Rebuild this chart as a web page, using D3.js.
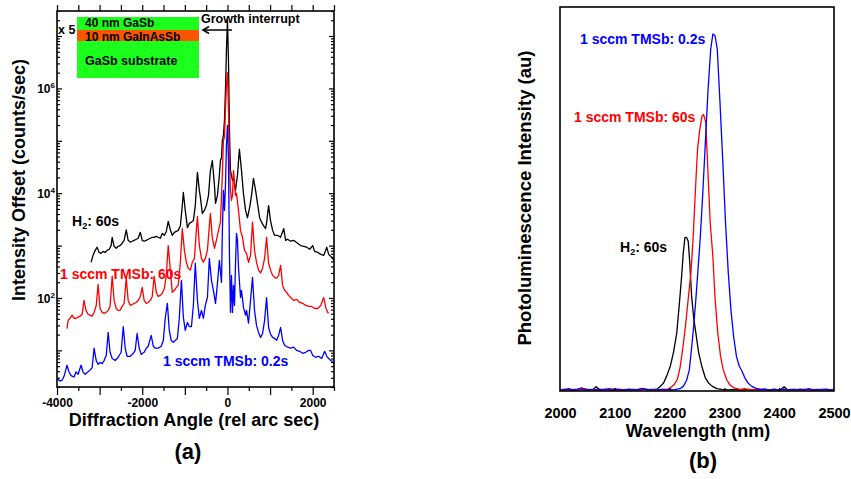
<!DOCTYPE html>
<html>
<head>
<meta charset="utf-8">
<script src="https://cdn.jsdelivr.net/npm/d3@7"></script>
<style>
  body { margin: 0; background: #fff; }
  svg text { font-family: "Liberation Sans", Arial, sans-serif; font-weight: bold; }
</style>
</head>
<body>
<div id="chart"></div>
<script>
const WIDTH = 851;
const HEIGHT = 479;

// (a) XRD CURVES: [angle (rel arc sec), intensity (counts/sec)]
const xrdH2 = [
  [-3200, 480], [-3155, 650], [-3105, 810], [-3060, 930], [-3010, 740], [-2965, 710], [-2920, 775],
  [-2870, 740], [-2825, 810], [-2775, 850], [-2730, 1000], [-2705, 1440], [-2660, 970], [-2610, 890],
  [-2565, 970], [-2520, 1000], [-2470, 1110], [-2425, 1260], [-2375, 2000], [-2330, 1260], [-2280, 1160],
  [-2235, 1210], [-2190, 1260], [-2140, 1320], [-2095, 1380], [-2045, 1790], [-2000, 1260], [-1955, 1210],
  [-1905, 1260], [-1860, 1320], [-1810, 1380], [-1765, 1440], [-1720, 1440], [-1670, 1500], [-1625, 1440],
  [-1575, 1380], [-1530, 1710], [-1480, 1570], [-1435, 1860], [-1390, 2900], [-1340, 2000], [-1295, 1570],
  [-1245, 1790], [-1200, 1860], [-1155, 1950], [-1105, 2400], [-1060, 5800], [-1035, 10300], [-990, 4700],
  [-940, 2200], [-895, 2650], [-845, 2800], [-800, 3000], [-755, 5800], [-705, 25000], [-660, 11300],
  [-635, 8300], [-590, 4100], [-540, 4700], [-495, 5800], [-445, 9100], [-400, 27000], [-355, 42000],
  [-305, 14100], [-280, 6400], [-235, 9100], [-190, 22000], [-165, 42000], [-140, 48000], [-120, 102000],
  [-95, 127000], [-70, 245000], [-47, 920000], [-24, 5300000], [0, 20000000], [24, 3400000], [47, 158000],
  [70, 27000], [94, 22000], [118, 17500], [141, 19200], [188, 11300], [235, 22000], [280, 69000],
  [330, 27000], [375, 9900], [425, 4700], [470, 3400], [520, 5300], [565, 9100], [610, 19200], [660, 11300],
  [705, 6400], [755, 3400], [800, 2800], [845, 2400], [895, 2100], [920, 2800], [965, 5800], [1010, 3000],
  [1060, 1950], [1105, 1570], [1175, 1570], [1245, 1440], [1320, 2100], [1365, 1260], [1410, 1320],
  [1480, 1210], [1555, 1260], [1645, 1110], [1720, 1000], [1790, 970], [1860, 930], [1930, 850],
  [2000, 1000], [2045, 775], [2120, 740], [2190, 680], [2260, 650], [2330, 930], [2375, 680],
  [2445, 600], [2500, 520]
];

const xrdTmsb60 = [
  [-3765, 26], [-3740, 37], [-3695, 41], [-3645, 47], [-3600, 41], [-3555, 41], [-3505, 43], [-3460, 45],
  [-3410, 49], [-3365, 90], [-3320, 58], [-3270, 49], [-3225, 47], [-3175, 45], [-3130, 53], [-3080, 72],
  [-3035, 182], [-2990, 63], [-2940, 53], [-2895, 51], [-2845, 53], [-2800, 58], [-2755, 69], [-2705, 260],
  [-2660, 90], [-2610, 63], [-2565, 58], [-2520, 58], [-2470, 69], [-2425, 79], [-2375, 238], [-2330, 90],
  [-2280, 72], [-2235, 75], [-2190, 79], [-2140, 82], [-2095, 90], [-2045, 107], [-2000, 160], [-1955, 90],
  [-1905, 79], [-1860, 82], [-1810, 90], [-1765, 107], [-1720, 260], [-1670, 128], [-1625, 107],
  [-1575, 112], [-1530, 123], [-1480, 153], [-1435, 270], [-1390, 1000], [-1340, 340], [-1295, 128],
  [-1245, 140], [-1200, 160], [-1155, 174], [-1105, 480], [-1060, 2100], [-1010, 810], [-965, 480],
  [-920, 370], [-870, 340], [-825, 480], [-775, 570], [-730, 1950], [-705, 3600], [-660, 1000], [-610, 570],
  [-565, 480], [-520, 570], [-470, 810], [-425, 2400], [-400, 4100], [-355, 1380], [-305, 890], [-260, 1260],
  [-210, 1950], [-165, 2800], [-120, 22000], [-95, 102000], [-70, 116000], [-47, 380000], [-24, 1140000],
  [0, 2000000], [24, 380000], [47, 42000], [70, 11300], [94, 7300], [118, 9100], [141, 27000], [165, 17500],
  [188, 9100], [212, 9900], [259, 4700], [306, 1950], [353, 1440], [400, 810], [447, 710], [494, 480],
  [541, 650], [588, 2800], [635, 810], [682, 480], [729, 340], [776, 300], [824, 370], [871, 570],
  [918, 1440], [965, 460], [1012, 340], [1059, 270], [1106, 248], [1153, 238], [1200, 270], [1247, 420],
  [1294, 174], [1341, 140], [1388, 128], [1435, 112], [1482, 102], [1553, 90], [1624, 94], [1694, 82],
  [1765, 79], [1835, 72], [1906, 69], [1976, 69], [2047, 63], [2118, 63], [2188, 72], [2259, 102],
  [2306, 66], [2353, 53], [2376, 51]
];

const xrdTmsb02 = [
  [-4000, 2.9], [-3930, 2.6], [-3880, 2.7], [-3835, 3.2], [-3765, 5.2], [-3720, 3.9], [-3670, 3.3],
  [-3600, 3.1], [-3555, 3.9], [-3505, 3.5], [-3435, 5.2], [-3390, 3.9], [-3340, 3.5], [-3270, 3.9],
  [-3225, 4.2], [-3175, 4.7], [-3130, 11], [-3080, 6.4], [-3035, 5.4], [-2990, 5.9], [-2940, 5.6],
  [-2895, 6.4], [-2845, 8.0], [-2800, 22], [-2755, 9.2], [-2705, 7.0], [-2635, 6.4], [-2565, 7.4],
  [-2495, 9.2], [-2445, 28.5], [-2400, 11], [-2355, 7.7], [-2280, 7.7], [-2210, 8.8], [-2165, 10],
  [-2120, 21], [-2070, 11], [-2025, 8.4], [-1955, 9.2], [-1905, 11], [-1860, 12], [-1790, 19.3],
  [-1740, 12], [-1695, 11], [-1625, 11], [-1555, 12], [-1505, 15.5], [-1460, 41], [-1410, 79], [-1365, 24],
  [-1320, 15.5], [-1270, 14.2], [-1225, 15.5], [-1175, 16.9], [-1130, 41], [-1080, 217], [-1035, 43],
  [-990, 24], [-940, 34], [-895, 28.5], [-845, 28.5], [-800, 72], [-755, 460], [-705, 90], [-660, 41],
  [-610, 58], [-565, 41], [-520, 72], [-470, 102], [-425, 570], [-375, 217], [-330, 140], [-280, 79],
  [-235, 190], [-190, 520], [-140, 199], [-120, 1790], [-95, 11300], [-70, 4700], [-47, 14100],
  [-24, 82000], [0, 197000], [24, 42000], [47, 650], [71, 53], [94, 270], [118, 53], [141, 174], [165, 72],
  [188, 420], [212, 1710], [235, 1260], [259, 385], [306, 102], [329, 140], [376, 66], [424, 47], [447, 58],
  [494, 33], [541, 90], [588, 248], [635, 58], [682, 30], [729, 22], [776, 17.7], [824, 21], [871, 37],
  [918, 102], [965, 27.3], [1012, 20.2], [1059, 17.7], [1106, 16.9], [1153, 15.5], [1200, 19.3],
  [1247, 27.3], [1294, 15.5], [1341, 12.5], [1412, 11.5], [1482, 11], [1553, 11.5], [1624, 10], [1694, 9.6],
  [1765, 8.8], [1835, 9.2], [1906, 10], [1953, 10], [2000, 8.0], [2070, 7.4], [2140, 7.7], [2210, 7.0],
  [2280, 9.6], [2330, 7.7], [2375, 7.0], [2425, 6.4], [2470, 6.2], [2500, 5.6]
];

// (b) PL SPECTRA: [wavelength (nm), intensity (au)]
const plH2 = [
  [2000, 0.003], [2012, 0.004], [2024, 0.002], [2036, 0.004], [2048, 0.003], [2060, 0.004], [2066, 0.011],
  [2072, 0.003], [2084, 0.004], [2096, 0.002], [2108, 0.004], [2120, 0.003], [2132, 0.004], [2144, 0.003],
  [2156, 0.005], [2165, 0.003], [2177, 0.005], [2183, 0.012], [2189, 0.021], [2195, 0.04], [2201, 0.063],
  [2207, 0.10], [2213, 0.15], [2218, 0.23], [2222, 0.30], [2225, 0.36], [2228, 0.40], [2231, 0.40],
  [2234, 0.39], [2237, 0.33], [2240, 0.25], [2244, 0.19], [2248, 0.15], [2253, 0.10], [2259, 0.063],
  [2265, 0.035], [2271, 0.021], [2278, 0.012], [2286, 0.006], [2295, 0.004], [2307, 0.003], [2319, 0.004],
  [2331, 0.002], [2343, 0.004], [2355, 0.003], [2367, 0.004], [2379, 0.003], [2391, 0.004], [2403, 0.003],
  [2409, 0.011], [2415, 0.003], [2427, 0.004], [2439, 0.003], [2451, 0.004], [2463, 0.002], [2475, 0.004],
  [2487, 0.003], [2500, 0.003]
];

const plTmsb60 = [
  [2000, 0.003], [2009, 0.005], [2018, 0.002], [2027, 0.004], [2036, 0.003], [2045, 0.006], [2054, 0.003],
  [2063, 0.004], [2072, 0.002], [2081, 0.005], [2090, 0.003], [2100, 0.006], [2109, 0.003], [2118, 0.004],
  [2127, 0.002], [2136, 0.004], [2145, 0.003], [2154, 0.005], [2163, 0.003], [2172, 0.004], [2181, 0.003],
  [2189, 0.005], [2195, 0.004], [2201, 0.008], [2208, 0.016], [2214, 0.03], [2219, 0.06], [2224, 0.11],
  [2229, 0.17], [2234, 0.24], [2239, 0.31], [2243, 0.40], [2247, 0.52], [2251, 0.63], [2255, 0.68],
  [2259, 0.715], [2262, 0.72], [2266, 0.70], [2270, 0.57], [2274, 0.44], [2279, 0.35], [2283, 0.24],
  [2288, 0.15], [2293, 0.09], [2298, 0.055], [2304, 0.03], [2310, 0.016], [2318, 0.008], [2328, 0.004],
  [2337, 0.006], [2346, 0.003], [2355, 0.004], [2364, 0.002], [2373, 0.005], [2382, 0.003], [2391, 0.004],
  [2400, 0.003], [2409, 0.005], [2418, 0.002], [2427, 0.004], [2436, 0.003], [2445, 0.005], [2454, 0.003],
  [2463, 0.004], [2472, 0.002], [2481, 0.005], [2490, 0.003], [2500, 0.004]
];

const plTmsb02 = [
  [2000, 0.004], [2008, 0.002], [2016, 0.006], [2024, 0.003], [2032, 0.005], [2040, 0.008], [2046, 0.003],
  [2055, 0.004], [2064, 0.002], [2072, 0.005], [2080, 0.003], [2090, 0.006], [2098, 0.003], [2107, 0.004],
  [2116, 0.002], [2125, 0.005], [2133, 0.003], [2142, 0.004], [2150, 0.007], [2158, 0.003], [2166, 0.004],
  [2175, 0.002], [2184, 0.004], [2192, 0.003], [2200, 0.004], [2208, 0.003], [2214, 0.005], [2219, 0.006],
  [2225, 0.012], [2231, 0.028], [2236, 0.055], [2240, 0.11], [2244, 0.17], [2248, 0.24], [2252, 0.32],
  [2256, 0.40], [2260, 0.50], [2265, 0.64], [2270, 0.78], [2275, 0.89], [2279, 0.93], [2283, 0.925],
  [2287, 0.89], [2292, 0.75], [2297, 0.60], [2302, 0.44], [2307, 0.31], [2312, 0.21], [2317, 0.14],
  [2322, 0.09], [2327, 0.065], [2332, 0.052], [2337, 0.035], [2343, 0.021], [2350, 0.012], [2358, 0.007],
  [2366, 0.004], [2374, 0.005], [2382, 0.002], [2390, 0.004], [2398, 0.003], [2406, 0.005], [2414, 0.002],
  [2422, 0.004], [2430, 0.003], [2438, 0.005], [2446, 0.002], [2454, 0.006], [2462, 0.003], [2470, 0.004],
  [2478, 0.002], [2486, 0.005], [2494, 0.003], [2500, 0.004]
];

// TICKS
const xrdTickLabels = [-4000, -2000, 0, 2000];
const xrdDecadeLabels = [2, 4, 6];
const plTickLabels = [2000, 2100, 2200, 2300, 2400, 2500];

const RED = '#ff0000';
const BLUE = '#0000ff';

const svg = d3.select('#chart').append('svg')
  .attr('width', WIDTH).attr('height', HEIGHT);

// ================= PANEL (a) =================
const A = { left: 57, right: 334, top: 11, bottom: 387 };
const xA = d3.scaleLinear().domain([-4000, 2500]).range([A.left, A.right]);
const yA = d3.scaleLog().domain([2, 3e7]).range([A.bottom, A.top]);

const gA = svg.append('g').attr('id', 'xrd');

gA.append('clipPath').attr('id', 'clip-a').append('rect')
  .attr('x', A.left).attr('y', A.top)
  .attr('width', A.right - A.left).attr('height', A.bottom - A.top);

const lineA = d3.line().x(d => xA(d[0])).y(d => yA(d[1]));

[[xrdH2, '#000'], [xrdTmsb60, RED], [xrdTmsb02, BLUE]].forEach(([data, color]) => {
  gA.append('path').datum(data)
    .attr('d', lineA)
    .attr('fill', 'none').attr('stroke', color).attr('stroke-width', 1.3)
    .attr('stroke-linejoin', 'round')
    .attr('clip-path', 'url(#clip-a)');
});

// log ticks 2..9 x 10^n
const logTicks = [];
for (let e = 0; e <= 7; e++) {
  for (let m = 1; m <= 9; m++) {
    const v = m * Math.pow(10, e);
    if (v >= 2 && v <= 3e7) logTicks.push(v);
  }
}
const isDecade = v => Math.abs(Math.log10(v) - Math.round(Math.log10(v))) < 1e-9;

function styleAxis(g) {
  g.select('.domain').remove();
  g.selectAll('.tick line').attr('stroke', '#000').attr('stroke-width', 1.2);
  g.attr('font-family', null).attr('font-size', null);
}

const leftA = gA.append('g').attr('transform', `translate(${A.left},0)`)
  .call(d3.axisLeft(yA).tickValues(logTicks).tickSize(-3).tickFormat(''));
styleAxis(leftA);
leftA.selectAll('.tick line').attr('x2', d => isDecade(d) ? 5 : 3);

const rightA = gA.append('g').attr('transform', `translate(${A.right},0)`)
  .call(d3.axisRight(yA).tickValues(logTicks).tickSize(-3).tickFormat(''));
styleAxis(rightA);
rightA.selectAll('.tick line').attr('x2', d => isDecade(d) ? -5 : -3);

const topA = gA.append('g').attr('transform', `translate(0,${A.top})`)
  .call(d3.axisTop(xA).tickValues(d3.range(-4000, 2501, 500)).tickSize(6).tickFormat(''));
styleAxis(topA);

const bottomA = gA.append('g').attr('transform', `translate(0,${A.bottom})`)
  .call(d3.axisBottom(xA).tickValues(d3.range(-4000, 2501, 500))
    .tickSize(4).tickPadding(7)
    .tickFormat(d => xrdTickLabels.includes(d) ? String(d) : ''));
styleAxis(bottomA);
bottomA.selectAll('.tick line').attr('y2', d => d % 1000 === 0 ? 8 : 4);
bottomA.selectAll('.tick text').attr('font-size', 12).attr('fill', '#000');

// decade labels 10^n
xrdDecadeLabels.forEach(e => {
  const t = gA.append('text')
    .attr('x', A.left - 2).attr('y', yA(Math.pow(10, e)) + 5)
    .attr('text-anchor', 'end').attr('font-size', 12);
  t.append('tspan').text('10');
  t.append('tspan').attr('dy', -5).attr('font-size', 8).text(e);
});

gA.append('rect')
  .attr('x', A.left).attr('y', A.top)
  .attr('width', A.right - A.left).attr('height', A.bottom - A.top)
  .attr('fill', 'none').attr('stroke', '#000').attr('stroke-width', 1.6);

// INSET: LAYER STACK
gA.append('rect').attr('x', 77).attr('y', 17).attr('width', 122).attr('height', 61).attr('fill', '#1cff1c');
gA.append('rect').attr('x', 77).attr('y', 30).attr('width', 122).attr('height', 11).attr('fill', '#ff5500');
gA.append('text').attr('x', 85).attr('y', 27).attr('font-size', 12).text('40 nm GaSb');
gA.append('text').attr('x', 85).attr('y', 40.5).attr('font-size', 12).text('10 nm GaInAsSb');
gA.append('text').attr('x', 85).attr('y', 65).attr('font-size', 12.5).text('GaSb substrate');
gA.append('text').attr('x', 58).attr('y', 34).attr('font-size', 12.5).text('x 5');

gA.append('text').attr('x', 201).attr('y', 23).attr('font-size', 12.5).text('Growth interrupt');
gA.append('path')
  .attr('d', 'M232,30 L203,30 M209,26.5 L203,30 L209,33.5')
  .attr('fill', 'none').attr('stroke', '#000').attr('stroke-width', 1.6);

// CURVE LABELS
const h2a = gA.append('text').attr('x', 72).attr('y', 226).attr('font-size', 14).attr('fill', '#000');
h2a.append('tspan').text('H');
h2a.append('tspan').attr('dy', 3).attr('font-size', 9).text('2');
h2a.append('tspan').attr('dy', -3).text(': 60s');
gA.append('text').attr('x', 60).attr('y', 279).attr('font-size', 14).attr('fill', RED).text('1 sccm TMSb: 60s');
gA.append('text').attr('x', 163).attr('y', 366).attr('font-size', 14).attr('fill', BLUE).text('1 sccm TMSb: 0.2s');

// AXIS TITLES
gA.append('text').attr('x', 194).attr('y', 426).attr('text-anchor', 'middle').attr('font-size', 18)
  .text('Diffraction Angle (rel arc sec)');
gA.append('text').attr('transform', 'translate(25,180) rotate(-90)').attr('text-anchor', 'middle')
  .attr('font-size', 18).text('Intensity Offset (counts/sec)');
gA.append('text').attr('x', 188).attr('y', 459).attr('text-anchor', 'middle').attr('font-size', 22).text('(a)');

// ================= PANEL (b) =================
const B = { left: 560, right: 834, top: 7, bottom: 391 };
const xB = d3.scaleLinear().domain([2000, 2500]).range([B.left, B.right]);
const yB = d3.scaleLinear().domain([0, 1]).range([B.bottom, B.top]);

const gB = svg.append('g').attr('id', 'pl');

const lineB = d3.line().x(d => xB(d[0])).y(d => yB(d[1]));

[[plH2, '#000'], [plTmsb60, RED], [plTmsb02, BLUE]].forEach(([data, color]) => {
  gB.append('path').datum(data)
    .attr('d', lineB)
    .attr('fill', 'none').attr('stroke', color).attr('stroke-width', 1.3)
    .attr('stroke-linejoin', 'round');
});

const bottomB = gB.append('g').attr('transform', `translate(0,${B.bottom})`)
  .call(d3.axisBottom(xB).tickValues(plTickLabels).tickSize(0).tickPadding(17).tickFormat(d => String(d)));
styleAxis(bottomB);
bottomB.selectAll('.tick text').attr('font-size', 14.5).attr('fill', '#000');

const innerB = gB.append('g').attr('transform', `translate(0,${B.bottom})`)
  .call(d3.axisBottom(xB).tickValues(plTickLabels.slice(1, -1)).tickSize(-3).tickFormat(''));
styleAxis(innerB);

gB.append('rect')
  .attr('x', B.left).attr('y', B.top)
  .attr('width', B.right - B.left).attr('height', B.bottom - B.top)
  .attr('fill', 'none').attr('stroke', '#000').attr('stroke-width', 1.6);

gB.append('text').attr('x', 580).attr('y', 44).attr('font-size', 14).attr('fill', BLUE).text('1 sccm TMSb: 0.2s');
gB.append('text').attr('x', 574).attr('y', 122).attr('font-size', 14).attr('fill', RED).text('1 sccm TMSb: 60s');
const h2b = gB.append('text').attr('x', 620).attr('y', 252).attr('font-size', 14).attr('fill', '#000');
h2b.append('tspan').text('H');
h2b.append('tspan').attr('dy', 3).attr('font-size', 9).text('2');
h2b.append('tspan').attr('dy', -3).text(': 60s');

gB.append('text').attr('x', 698).attr('y', 437).attr('text-anchor', 'middle').attr('font-size', 18)
  .text('Wavelength (nm)');
gB.append('text').attr('transform', 'translate(531,198) rotate(-90)').attr('text-anchor', 'middle')
  .attr('font-size', 18.5).text('Photoluminescence Intensity (au)');
gB.append('text').attr('x', 703).attr('y', 468).attr('text-anchor', 'middle').attr('font-size', 22).text('(b)');
</script>
</body>
</html>
